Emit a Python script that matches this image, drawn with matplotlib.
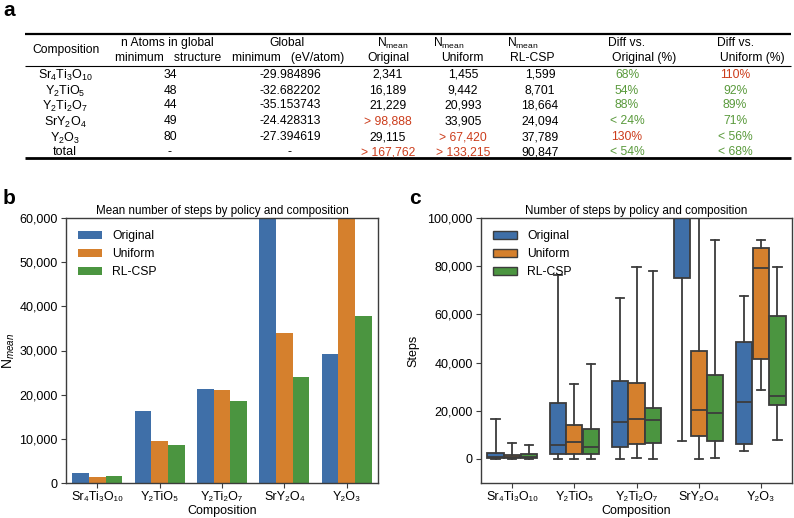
import numpy as np
import matplotlib
matplotlib.use('Agg')
import matplotlib.pyplot as plt
from matplotlib.ticker import StrMethodFormatter, MultipleLocator

plt.rcParams['font.family'] = ['Liberation Sans', 'DejaVu Sans']
plt.rcParams['mathtext.fontset'] = 'custom'
plt.rcParams['mathtext.rm'] = 'Liberation Sans'
plt.rcParams['mathtext.it'] = 'Liberation Sans:italic'
plt.rcParams['mathtext.bf'] = 'Liberation Sans:bold'

# ---- data ----
table_compositions = [r'Sr$_4$Ti$_3$O$_{10}$', r'Y$_2$TiO$_5$', r'Y$_2$Ti$_2$O$_7$',
                      r'SrY$_2$O$_4$', r'Y$_2$O$_3$', 'total']
n_atoms = ['34', '48', '44', '49', '80', '-']
global_min = ['-29.984896', '-32.682202', '-35.153743', '-24.428313', '-27.394619', '-']
n_original = ['2,341', '16,189', '21,229', '> 98,888', '29,115', '> 167,762']
n_uniform = ['1,455', '9,442', '20,993', '33,905', '> 67,420', '> 133,215']
n_rlcsp = ['1,599', '8,701', '18,664', '24,094', '37,789', '90,847']
diff_original = ['68%', '54%', '88%', '< 24%', '130%', '< 54%']
diff_uniform = ['110%', '92%', '89%', '71%', '< 56%', '< 68%']

compositions = ['Sr\u2084Ti\u2083O\u2081\u2080', 'Y\u2082TiO\u2085', 'Y\u2082Ti\u2082O\u2087',
                'SrY\u2082O\u2084', 'Y\u2082O\u2083']
policies = ['Original', 'Uniform', 'RL-CSP']
mean_original = [2341, 16189, 21229, 98888, 29115]
mean_uniform = [1455, 9442, 20993, 33905, 67420]
mean_rlcsp = [1599, 8701, 18664, 24094, 37789]

# box stats, per policy, per composition
orig_whislo = [0, 0, 0, 7600, 3200]
orig_q1 = [200, 2100, 5100, 75200, 6200]
orig_med = [1000, 5900, 15200, 120000, 23700]
orig_q3 = [2600, 23100, 32400, 150000, 48600]
orig_whishi = [16700, 76300, 66900, 200000, 67600]

unif_whislo = [0, 0, 400, 0, 28400]
unif_q1 = [300, 2200, 6200, 9700, 41400]
unif_med = [900, 6900, 16600, 20300, 79200]
unif_q3 = [1600, 13900, 31700, 44800, 87700]
unif_whishi = [6400, 31200, 79700, 130000, 91000]

rl_whislo = [0, 0, 0, 400, 7900]
rl_q1 = [300, 2100, 6800, 7600, 22300]
rl_med = [1000, 5000, 16300, 18900, 26200]
rl_q3 = [2100, 12400, 21100, 35000, 59300]
rl_whishi = [5600, 39200, 77900, 91000, 79600]

colors = ['#3f6fa8', '#d5802d', '#4b9540']
red = '#cc3d1c'
green = '#5a9a3c'
dark = '#3c3c3c'

W, H = 794, 518
fig = plt.figure(figsize=(W / 100, H / 100), dpi=100)

# ---- panel a: table ----
ax_t = fig.add_axes([0, 1 - 165 / H, 1, 165 / H])
ax_t.set_xlim(0, W)
ax_t.set_ylim(165, 0)
ax_t.axis('off')
fs = 8.7

ax_t.hlines(34, 25, 791, color='black', lw=1.6)
ax_t.hlines(66, 25, 791, color='black', lw=0.8)
ax_t.hlines(158, 25, 791, color='black', lw=2.0)

ax_t.text(66, 50, 'Composition', ha='center', va='center', fontsize=fs)
ax_t.text(167, 43, 'n Atoms in global', ha='center', va='center', fontsize=fs)
ax_t.text(168, 58, 'minimum   structure', ha='center', va='center', fontsize=fs)
ax_t.text(287, 43, 'Global', ha='center', va='center', fontsize=fs)
ax_t.text(288, 58, 'minimum   (eV/atom)', ha='center', va='center', fontsize=fs)
for xl, xs, sub in [(377, 388, 'Original'), (433, 462, 'Uniform'), (507, 532, 'RL-CSP')]:
    ax_t.text(xl, 43, r'N$_\mathrm{mean}$', ha='left', va='center', fontsize=fs)
    ax_t.text(xs, 58, sub, ha='center', va='center', fontsize=fs)
ax_t.text(608, 43, 'Diff vs.', ha='left', va='center', fontsize=fs)
ax_t.text(612, 58, 'Original (%)', ha='left', va='center', fontsize=fs)
ax_t.text(717, 43, 'Diff vs.', ha='left', va='center', fontsize=fs)
ax_t.text(720, 58, 'Uniform (%)', ha='left', va='center', fontsize=fs)


def n_color(s):
    return red if s.startswith('>') else 'black'


def diff_color(s):
    if not s.startswith('<') and int(s.strip('%')) > 100:
        return red
    return green


row_y = [73, 89, 104, 120, 136, 151]
for i, y in enumerate(row_y):
    ax_t.text(65, y, table_compositions[i], ha='center', va='center_baseline', fontsize=fs + 0.3)
    ax_t.text(170, y, n_atoms[i], ha='center', va='center_baseline', fontsize=fs)
    ax_t.text(290, y, global_min[i], ha='center', va='center_baseline', fontsize=fs)
    ax_t.text(388, y, n_original[i], ha='center', va='center_baseline', fontsize=fs,
              color=n_color(n_original[i]))
    ax_t.text(463, y, n_uniform[i], ha='center', va='center_baseline', fontsize=fs,
              color=n_color(n_uniform[i]))
    ax_t.text(540, y, n_rlcsp[i], ha='center', va='center_baseline', fontsize=fs,
              color=n_color(n_rlcsp[i]))
    ax_t.text(627, y, diff_original[i], ha='center', va='center_baseline', fontsize=fs,
              color=diff_color(diff_original[i]))
    ax_t.text(735, y, diff_uniform[i], ha='center', va='center_baseline', fontsize=fs,
              color=diff_color(diff_uniform[i]))

fig.text(3 / W, 1 - 10 / H, 'a', fontsize=15, fontweight='bold', va='center', ha='left')
fig.text(3 / W, 1 - 198 / H, 'b', fontsize=15, fontweight='bold', va='center', ha='left')
fig.text(409 / W, 1 - 198 / H, 'c', fontsize=15, fontweight='bold', va='center', ha='left')


def style_axes(ax):
    for sp in ax.spines.values():
        sp.set_color(dark)
        sp.set_linewidth(1.0)
    ax.tick_params(colors=dark, labelcolor='black', labelsize=9, length=3.5, pad=2.5)
    ax.yaxis.set_major_formatter(StrMethodFormatter('{x:,.0f}'))
    ax.set_xticks(np.arange(len(compositions)))
    ax.set_xticklabels(compositions)
    ax.set_xlim(-0.5, len(compositions) - 0.5)
    ax.set_xlabel('Composition', fontsize=9, labelpad=1)


# ---- panel b: bars ----
ax_b = fig.add_axes([66 / W, 1 - 483 / H, (378 - 66) / W, (483 - 218) / H])
w = 0.8 / 3
x = np.arange(len(compositions))
for i, vals in enumerate([mean_original, mean_uniform, mean_rlcsp]):
    ax_b.bar(x + (i - 1) * w, vals, w, color=colors[i], label=policies[i])
ax_b.set_ylim(0, 60000)
ax_b.yaxis.set_major_locator(MultipleLocator(10000))
style_axes(ax_b)
ax_b.set_ylabel(r'N$_{mean}$', fontsize=10, labelpad=2)
ax_b.set_title('Mean number of steps by policy and composition', fontsize=8.4, pad=3)
ax_b.legend(loc='upper left', frameon=False, fontsize=8.7, borderaxespad=0.6)

# ---- panel c: boxes ----
ax_c = fig.add_axes([481 / W, 1 - 483 / H, (792 - 481) / W, (483 - 218) / H])
all_stats = [
    (orig_whislo, orig_q1, orig_med, orig_q3, orig_whishi),
    (unif_whislo, unif_q1, unif_med, unif_q3, unif_whishi),
    (rl_whislo, rl_q1, rl_med, rl_q3, rl_whishi),
]
bw = w * 0.98
for i, (lo, q1, med, q3, hi) in enumerate(all_stats):
    stats = [dict(whislo=lo[k], q1=q1[k], med=med[k], q3=q3[k], whishi=hi[k], fliers=[])
             for k in range(len(compositions))]
    lw = 1.3
    ax_c.bxp(stats, positions=x + (i - 1) * w, widths=bw, capwidths=bw / 2,
             patch_artist=True, showfliers=False, manage_ticks=False,
             boxprops=dict(facecolor=colors[i], edgecolor=dark, linewidth=lw),
             medianprops=dict(color=dark, linewidth=lw),
             whiskerprops=dict(color=dark, linewidth=lw),
             capprops=dict(color=dark, linewidth=lw))
    ax_c.bar([0], [0], color=colors[i], label=policies[i])
ax_c.set_ylim(-10000, 100000)
ax_c.yaxis.set_major_locator(MultipleLocator(20000))
style_axes(ax_c)
ax_c.set_ylabel('Steps', fontsize=9, labelpad=6)
ax_c.set_title('Number of steps by policy and composition', fontsize=8.4, pad=3)
leg = ax_c.legend(loc='upper left', frameon=False, fontsize=8.7, borderaxespad=0.6)
for p in leg.get_patches():
    p.set_edgecolor(dark)
    p.set_linewidth(1.0)

fig.savefig('out.png', dpi=100)
